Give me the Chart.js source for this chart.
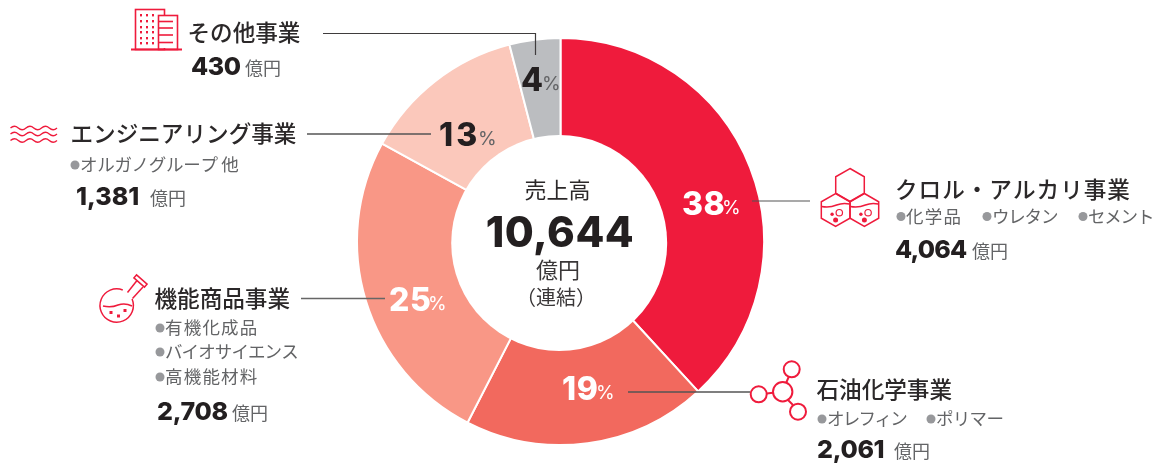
<!DOCTYPE html>
<html lang="ja"><head><meta charset="utf-8">
<style>html,body{margin:0;padding:0;background:#fff}#w{position:relative;width:1157px;height:466px}</style>
<script src="https://cdn.jsdelivr.net/npm/chart.js@4"></script></head>
<body><div id="w"><canvas id="c" width="1157" height="466"></canvas></div>
<script>
const categories=['クロル・アルカリ事業','石油化学事業','機能商品事業','エンジニアリング事業','その他事業'];
const salesValues=[4064,2061,2708,1381,430];
const salesLabels=['4,064','2,061','2,708','1,381','430'];
const percentLabels=['38','19','25','13','4'];
const sliceColors=['#EF1B3C','#F2695E','#F99786','#FBC8BB','#BBBDC0'];
const subItems=[['化学品','ウレタン','セメント'],['オレフィン','ポリマー'],['有機化成品','バイオサイエンス','高機能材料'],['オルガノグループ 他'],[]];
const totalLabel='10,644';

const RED='#EF1B3C',DARK='#231F20',GRAY='#636466',DOT='#97989B';
const JP='"Noto Sans CJK JP"';
const NUM='Inter,"Noto Sans"';
function T(ctx,s,x,y,font,color,align,ls){ctx.font=font;ctx.fillStyle=color;ctx.textAlign=align||'left';ctx.textBaseline='alphabetic';ctx.letterSpacing=ls||'0px';ctx.fillText(s,x,y);ctx.letterSpacing='0px';}
function title(ctx,s,x,y,ls,size){T(ctx,s,x,y,'500 '+(size||22.6)+'px '+JP,'#2b2829','left',ls);}
function sub(ctx,s,x,y,ls){ctx.fillStyle=DOT;ctx.beginPath();ctx.arc(x+5,y-6,4.5,0,7);ctx.fill();T(ctx,s,x+10,y,'400 17.5px '+JP,GRAY,'left',ls);}
function amount(ctx,s,x,y,ux,ls){T(ctx,s,x,y,'800 25px '+NUM,DARK,'left',ls);T(ctx,'億円',ux,y-0.5,'400 18px '+JP,GRAY);}
function pct(ctx,s,x,y,px,col,pc,ls){T(ctx,s,x,y,'800 32px '+NUM,col,'left',ls||'0.5px');T(ctx,'%',px,y-1,'400 19px '+NUM,pc);}
function line(ctx,pts,col,w){ctx.strokeStyle=col;ctx.lineWidth=w||1.3;ctx.beginPath();pts.forEach((p,i)=>i?ctx.lineTo(p[0],p[1]):ctx.moveTo(p[0],p[1]));ctx.stroke();}
function hex(ctx,cx,cy,r){ctx.beginPath();for(let i=0;i<6;i++){const a=Math.PI/3*i-Math.PI/2;ctx[i?'lineTo':'moveTo'](cx+r*Math.cos(a),cy+r*Math.sin(a));}ctx.closePath();ctx.stroke();}
function circ(ctx,x,y,r,fill){ctx.beginPath();ctx.arc(x,y,r,0,Math.PI*2);fill?ctx.fill():ctx.stroke();}

function icons(ctx){
 ctx.save();ctx.strokeStyle=RED;ctx.fillStyle=RED;ctx.lineWidth=1.6;ctx.lineCap='butt';
 // building
 ctx.strokeRect(135.5,9.5,29,40);ctx.clearRect(158,15,20,33);ctx.strokeRect(158.5,15.5,19,34);
 line(ctx,[[131,49.5],[182,49.5]],RED,2);
 [15,21,27,32,38,43].forEach(y=>[141,147,153].forEach(x=>ctx.fillRect(x-1,y-1,2,2.4)));
 [21.5,28,35,42.5].forEach(y=>line(ctx,[[159,y],[173,y]],RED,1.6));
 // waves
 ctx.lineWidth=1.4;
 [128,134,140.5].forEach(y=>{ctx.beginPath();ctx.moveTo(10.5,y);for(let i=0;i<3;i++){const x=10.5+i*15.5;ctx.quadraticCurveTo(x+3.9,y-3.4,x+7.75,y);ctx.quadraticCurveTo(x+11.6,y+3.4,x+15.5,y);}ctx.stroke();});
 // hexes
 ctx.lineWidth=1.5;
 hex(ctx,850,185,16.5);hex(ctx,835.6,210,16.5);hex(ctx,864.4,210,16.5);
 [835.6,864.4].forEach(c=>{
  ctx.beginPath();ctx.moveTo(c-14,206.5);ctx.quadraticCurveTo(c-6,208,c+1,205);ctx.quadraticCurveTo(c+7,202.5,c+14,204);ctx.stroke();
  ctx.lineWidth=1.2;circ(ctx,c+3.7,212.7,3.2);ctx.lineWidth=1.5;
  circ(ctx,c-3.5,214.3,1.7,true);circ(ctx,c,220,2.5,true);
 });
 // molecule
 ctx.lineWidth=2;
 circ(ctx,791.7,369.3,8);circ(ctx,782.7,391.7,9.7);circ(ctx,758.7,394.3,8);circ(ctx,798,411.7,8);
 line(ctx,[[788.7,377],[786.3,382.5]],RED,2);line(ctx,[[766.7,393.5],[773,392.8]],RED,2);line(ctx,[[788,400],[793,405]],RED,2);
 // flask
 ctx.lineWidth=1.5;
 ctx.beginPath();ctx.arc(116.7,305.5,16.7,-0.4,Math.PI*2-1.2);ctx.stroke();
 line(ctx,[[127.5,292.5],[137,280.5]],RED,1.5);line(ctx,[[132.5,298.5],[143,287]],RED,1.5);
 ctx.save();ctx.translate(140.5,281);ctx.rotate(0.72);ctx.lineWidth=1.5;ctx.strokeRect(-7,-2,14,4);ctx.restore();
 ctx.beginPath();ctx.moveTo(103,306);ctx.quadraticCurveTo(111,308,118,305);ctx.quadraticCurveTo(125,302.5,132,306);ctx.stroke();
 [[111,312.5],[118.5,316],[125,310.5]].forEach(p=>ctx.fillRect(p[0]-1.5,p[1]-1.5,3,3));
 ctx.restore();
}

const overlay={id:'overlay',afterDraw(chart){
 const ctx=chart.ctx;ctx.save();
 // the hole in the reference sits slightly off the ring's centre
 ctx.fillStyle='#fff';circ(ctx,559.2,243,108,true);
 // leaders
 line(ctx,[[323,33.5],[535.5,33.5],[535.5,55]],'#3f3c3d',1.2);
 line(ctx,[[307,134],[431,134]],'#555',1.4);
 line(ctx,[[752,201],[810,201]],'#555',1.2);
 line(ctx,[[628,392],[750,392]],'#555',1.4);
 line(ctx,[[301,298.5],[385,298.5]],'#666',1.4);
 icons(ctx);
 // percent labels
 pct(ctx,percentLabels[0],682,215,722,'#fff','#fff');
 pct(ctx,percentLabels[1],562,400,596,'#fff','#fff');
 pct(ctx,percentLabels[2],389,311,428,'#fff','#fff');
 pct(ctx,percentLabels[3],439,146,478,DARK,GRAY,'3px');
 pct(ctx,percentLabels[4],521,91,542,DARK,GRAY);
 // center
 T(ctx,'売上高',557.5,198,'400 22px '+JP,'#2b2829','center');
 T(ctx,totalLabel,560,247,'800 42px '+NUM,DARK,'center','0.5px');
 T(ctx,'億円',558,278,'400 22px '+JP,'#3a3738','center');
 T(ctx,'（連結）',556,305,'400 20px '+JP,'#3a3738','center');
 // クロル
 title(ctx,categories[0],895,198,'1px');
 sub(ctx,subItems[0][0],896,222.5,'1.2px');sub(ctx,subItems[0][1],982,222.5,'-1.2px');sub(ctx,subItems[0][2],1078,222.5,'-1.2px');
 amount(ctx,salesLabels[0],895,258,972,'-0.8px');
 // 石油
 title(ctx,categories[1],816.5,398);
 sub(ctx,subItems[1][0],817,425,'-1.7px');sub(ctx,subItems[1][1],926,425,'-0.7px');
 amount(ctx,salesLabels[1],817,458,894,'-0.3px');
 // 機能
 title(ctx,categories[2],154.5,307);
 sub(ctx,subItems[2][0],155,334,'1.2px');sub(ctx,subItems[2][1],155,358,'-0.9px');sub(ctx,subItems[2][2],155,383,'1.2px');
 amount(ctx,salesLabels[2],157,420,232,'-0.3px');
 // エンジ
 title(ctx,categories[3],70.5,142);
 sub(ctx,subItems[3][0],70,171,'-0.3px');
 amount(ctx,salesLabels[3],76,205,150);
 // その他
 title(ctx,categories[4],187.5,41);
 amount(ctx,salesLabels[4],191,75,245,'-0.4px');
 ctx.restore();
}};

new Chart(document.getElementById('c'),{type:'doughnut',
 data:{labels:categories,datasets:[{data:salesValues,backgroundColor:sliceColors,borderColor:'#fff',borderWidth:2}]},
 options:{responsive:false,animation:false,cutout:'51%',rotation:0,circumference:360,
  layout:{padding:{left:0,right:36,top:37,bottom:20}},
  plugins:{legend:{display:false},tooltip:{enabled:false},title:{display:false}}},
 plugins:[overlay]});
</script></body></html>
